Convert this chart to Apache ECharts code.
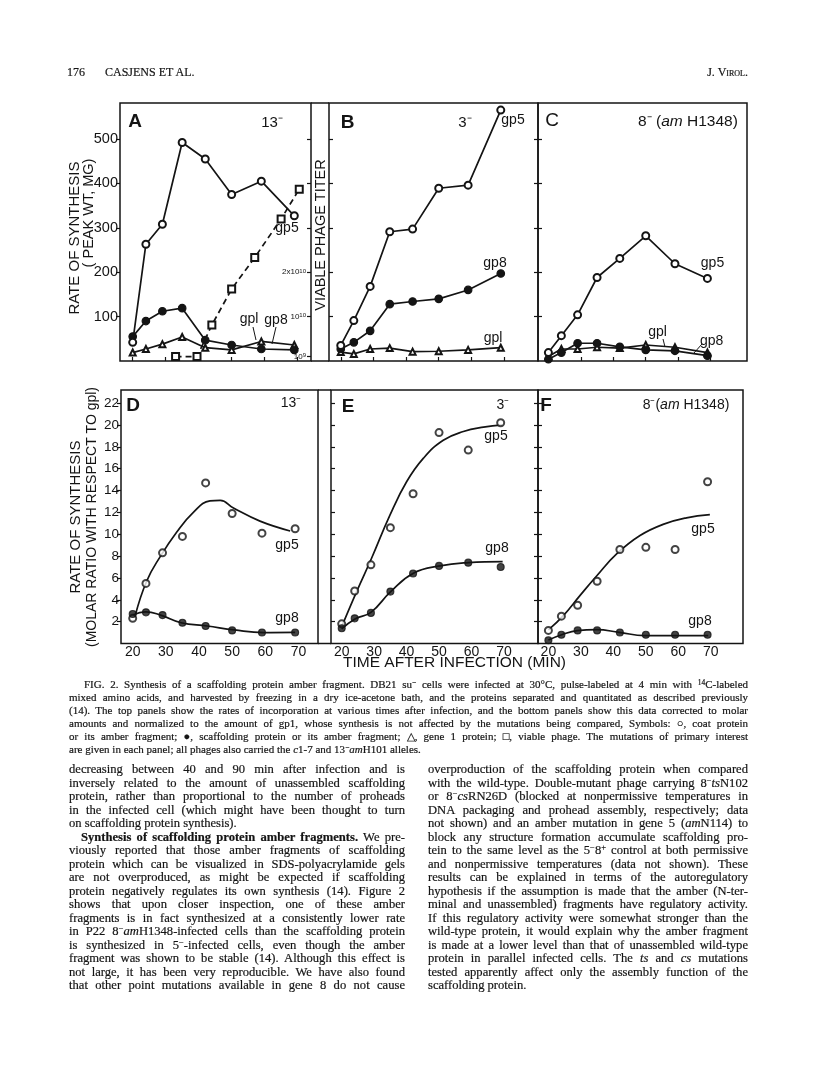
<!DOCTYPE html>
<html><head><meta charset="utf-8">
<script src="https://cdn.jsdelivr.net/npm/echarts@6/dist/echarts.min.js"></script>
<style>
html,body{margin:0;padding:0;background:#fff;}
#page{position:relative;width:816px;height:1076px;overflow:hidden;background:#fff;}
#chart{position:absolute;left:0;top:0;width:816px;height:1076px;}
.ln{position:absolute;white-space:nowrap;font-family:'Liberation Serif','Times New Roman',serif;color:#151515;-webkit-text-stroke:0.2px #151515;}
.cap{font-size:11px;line-height:13px;}
.body{font-size:12.6px;line-height:13.5px;}
.hdr{font-size:12px;line-height:14px;}
sup{font-size:0.68em;vertical-align:0.45em;line-height:0;}
</style></head>
<body><div id="page"><div id="chart"></div><div id="txt"></div></div>
<script>
// ---------- data ----------
const times = [20, 24, 29, 35, 42, 50, 59, 69];           // sampling times (min)
const xTickValues = [20, 30, 40, 50, 60, 70];
// Panel A (13-) : rate of synthesis (peak wt, mg)
const aGp5 = [42, 263, 308, 492, 455, 375, 405, 327];
const aGp8 = [55, 90, 112, 119, 47, 36, 27, 25];
const aGp1 = [19, 27, 38, 54, 30, 25, 44, 36];
const aPhageTimes = [33, 39.5, 44, 50, 57, 65, 70.5];
const aPhageTiter = [1.0e9, 1.0e9, 8.1e9, 1.62e10, 2.33e10, 3.2e10, 3.87e10];
const topTickValues = [100, 200, 300, 400, 500];
const phageTickValues = [1e9, 1e10, 2e10, 3e10, 4e10, 5e10];
const phageLabelValues = [1e9, 1e10, 2e10];
// Panel B (3-)
const bGp5 = [35, 91, 168, 291, 297, 389, 396, 565];
const bGp8 = [27, 42, 68, 128, 134, 140, 160, 197];
const bGp1 = [20, 16, 27, 29, 21, 22, 25, 30];
// Panel C (8- am H1348)
const cGp5 = [19, 57, 104, 188, 231, 282, 219, 186];
const cGp8 = [4, 19, 40, 40, 32, 25, 23, 12];
const cGp1 = [10, 27, 27, 31, 29, 36, 31, 19];
// Bottom panels: molar ratio with respect to gp1
const botTickValues = [2, 4, 6, 8, 10, 12, 14, 16, 18, 20, 22];
const dGp5 = [2.3, 5.5, 8.3, 9.8, 14.7, 11.9, 10.1, 10.5];
const dGp8 = [2.7, 2.85, 2.6, 1.9, 1.6, 1.2, 1.0, 1.0];
const eGp5 = [1.8, 4.8, 7.2, 10.6, 13.7, 19.3, 17.7, 20.2];
const eGp8 = [1.4, 2.3, 2.8, 4.75, 6.4, 7.1, 7.4, 7.0];
const fGp5 = [1.2, 2.5, 3.5, 5.7, 8.6, 8.8, 8.6, 14.8];
const fGp8 = [0.3, 0.8, 1.2, 1.2, 1.0, 0.8, 0.8, 0.8];
// hand-drawn fitted curves
const dGp5FitT = [20.7, 24.2, 28.3, 33.3, 38.3, 43.3, 46.4, 50.4, 58.4, 67.5];
const dGp5FitV = [2.5, 5.7, 7.95, 10.2, 12.0, 13.05, 13.1, 12.4, 11.2, 10.3];
const dGp8FitT = [20, 24, 28.4, 34.6, 42.5, 50.7, 59.5, 69];
const dGp8FitV = [2.6, 2.9, 2.6, 1.9, 1.6, 1.24, 1.0, 1.02];
const eGp5FitT = [20, 24.6, 29.2, 34.9, 40, 45.2, 51.3, 57.5, 63.7, 69.6];
const eGp5FitV = [1.54, 4.75, 7.8, 11.77, 14.8, 16.96, 18.6, 19.4, 19.8, 20.0];
const eGp8FitT = [20, 24.1, 29, 35.1, 42.1, 50.3, 59.1, 69.6];
const eGp8FitV = [1.33, 2.24, 2.85, 4.75, 6.43, 7.1, 7.4, 7.5];
const fGp5FitT = [20, 24.6, 29.7, 34.9, 41, 48.2, 55.3, 62.5, 69.7];
const fGp5FitV = [1.24, 2.55, 4.38, 6.2, 8.2, 9.88, 10.9, 11.5, 11.8];
const fGp8FitT = [20, 24.1, 28.9, 34.9, 41.8, 49.7, 58.7, 69.2];
const fGp8FitV = [0.32, 0.8, 1.18, 1.27, 1.02, 0.72, 0.72, 0.72];

// ---------- chart ----------
const INK = '#141414';
const FONT = "'Liberation Sans', Arial, sans-serif";
const zip = (xs, ys) => xs.map((x, i) => [x, ys[i]]);

function grid(l, t, w, h) {
  return {left: l, top: t, width: w, height: h, show: true, borderColor: INK, borderWidth: 1.5,
          backgroundColor: 'rgba(0,0,0,0)'};
}
const grids = [grid(120, 103, 191, 258), grid(329, 103, 209, 258), grid(538, 103, 209, 258),
               grid(121, 390, 197, 253.5), grid(331, 390, 207, 253.5), grid(538, 390, 205, 253.5)];

function xTop(gi, min, max) {
  return {type: 'value', gridIndex: gi, min, max, axisLine: {show: false}, splitLine: {show: false},
    axisTick: {show: true, inside: true, length: 4, customValues: xTickValues, lineStyle: {color: INK, width: 1.2}},
    axisLabel: {show: false}};
}
function xBot(gi, min, max) {
  return {type: 'value', gridIndex: gi, min, max, axisLine: {show: false}, splitLine: {show: false},
    axisTick: {show: false},
    axisLabel: {show: true, customValues: xTickValues, fontSize: 14, fontFamily: FONT, color: INK, margin: 2}};
}
function yAx(gi, pos, max, ticks, inside, labels, fs) {
  return {type: 'value', gridIndex: gi, position: pos, min: 0, max, axisLine: {show: false}, splitLine: {show: false},
    axisTick: {show: true, inside, length: 4, customValues: ticks, lineStyle: {color: INK, width: 1.2}},
    axisLabel: labels ? {show: true, customValues: labels, fontSize: fs, fontFamily: FONT, color: INK, margin: 2}
                      : {show: false}};
}
const TOPMAX = 581, BOTMAX = 23.2;
const xAxes = [xTop(0, 16.15, 74.06), xTop(1, 16.4, 80.4), xTop(2, 16.8, 81.2),
               xBot(3, 16.47, 75.9), xBot(4, 16.7, 80.5), xBot(5, 16.8, 79.9)];
const phageAxis = {type: 'value', gridIndex: 0, position: 'right', min: 0, max: TOPMAX * 1e8,
  axisLine: {show: false}, splitLine: {show: false},
  axisTick: {show: true, inside: true, length: 4, customValues: phageTickValues, lineStyle: {color: INK, width: 1.2}},
  axisLabel: {show: true, inside: true, customValues: phageLabelValues, margin: 5, color: INK,
    formatter: v => {
      const r = Math.round(v / 1e9);
      return r === 1 ? '{b|10}{s|9}' : r === 10 ? '{b|10}{s|10}' : '{b|2x10}{s|10}';
    },
    rich: {b: {fontSize: 8, fontFamily: FONT, color: INK, verticalAlign: 'bottom'},
           s: {fontSize: 6, fontFamily: FONT, color: INK, verticalAlign: 'top'}}}};
const yAxes = [
  yAx(0, 'left', TOPMAX, topTickValues, false, topTickValues, 14.5),   // 0 A left
  phageAxis,                                                          // 1 A right
  yAx(1, 'left', TOPMAX, topTickValues, true, null),                  // 2 B left
  yAx(1, 'right', TOPMAX, topTickValues, true, null),                 // 3 B right
  yAx(2, 'left', TOPMAX, topTickValues, true, null),                  // 4 C left
  yAx(3, 'left', BOTMAX, botTickValues, false, botTickValues, 13.5),  // 5 D left
  yAx(4, 'left', BOTMAX, botTickValues, true, null),                  // 6 E left
  yAx(4, 'right', BOTMAX, botTickValues, true, null),                 // 7 E right
  yAx(5, 'left', BOTMAX, botTickValues, true, null)                   // 8 F left
];

function lineS(xi, yi, data, symbol, size, dashed) {
  return {type: 'line', xAxisIndex: xi, yAxisIndex: yi, data, symbol, symbolSize: size, smooth: false,
    showAllSymbol: true, z: 3,
    lineStyle: {color: INK, width: 1.7, type: dashed ? [6, 4] : 'solid'},
    itemStyle: {color: INK, borderColor: INK, borderWidth: 1.2}};
}
function fitS(xi, yi, data) {
  return {type: 'line', xAxisIndex: xi, yAxisIndex: yi, data, symbol: 'none', smooth: 0.45, z: 2,
    lineStyle: {color: INK, width: 1.7}};
}
function ptS(xi, yi, data, symbol) {
  return {type: 'scatter', xAxisIndex: xi, yAxisIndex: yi, data, symbol, symbolSize: 7, z: 4,
    itemStyle: {color: INK, borderColor: INK, borderWidth: 1.1}};
}
const series = [
  lineS(0, 1, zip(aPhageTimes, aPhageTiter), 'emptyRect', 7, true),
  lineS(0, 0, zip(times, aGp1), 'emptyTriangle', 6),
  lineS(0, 0, zip(times, aGp8), 'circle', 7.5),
  lineS(0, 0, zip(times, aGp5), 'emptyCircle', 7),
  lineS(1, 2, zip(times, bGp1), 'emptyTriangle', 6),
  lineS(1, 2, zip(times, bGp8), 'circle', 7.5),
  lineS(1, 2, zip(times, bGp5), 'emptyCircle', 7),
  lineS(2, 4, zip(times, cGp1), 'emptyTriangle', 6),
  lineS(2, 4, zip(times, cGp8), 'circle', 7.5),
  lineS(2, 4, zip(times, cGp5), 'emptyCircle', 7),
  fitS(3, 5, zip(dGp5FitT, dGp5FitV)), fitS(3, 5, zip(dGp8FitT, dGp8FitV)),
  ptS(3, 5, zip(times, dGp5), 'emptyCircle'), ptS(3, 5, zip(times, dGp8), 'circle'),
  fitS(4, 6, zip(eGp5FitT, eGp5FitV)), fitS(4, 6, zip(eGp8FitT, eGp8FitV)),
  ptS(4, 6, zip(times, eGp5), 'emptyCircle'), ptS(4, 6, zip(times, eGp8), 'circle'),
  fitS(5, 8, zip(fGp5FitT, fGp5FitV)), fitS(5, 8, zip(fGp8FitT, fGp8FitV)),
  ptS(5, 8, zip(times, fGp5), 'emptyCircle'), ptS(5, 8, zip(times, fGp8), 'circle')
];

function txt(x, y, text, size, opt) {
  opt = opt || {};
  return {type: 'text', x, y, rotation: opt.rot || 0, z: 10,
    style: {text, fill: INK, font: (opt.weight || 'normal') + ' ' + size + 'px ' + FONT,
            align: opt.align || 'center', verticalAlign: 'middle', rich: opt.rich}};
}
function seg(x1, y1, x2, y2, w) {
  return {type: 'line', z: 10, shape: {x1, y1, x2, y2}, style: {stroke: INK, lineWidth: w || 1.5}};
}
const amRich = s => ({n: {font: s + 'px ' + FONT, fill: INK}, i: {font: 'italic ' + s + 'px ' + FONT, fill: INK}});
const graphics = [
  // frame connectors between panels
  seg(311, 103, 329, 103), seg(311, 361, 329, 361),
  seg(318, 390, 331, 390), seg(318, 643.5, 331, 643.5),
  // axis titles
  txt(75, 238, 'RATE OF SYNTHESIS', 15, {rot: Math.PI / 2}),
  txt(89, 213, '( PEAK WT, MG)', 14.5, {rot: Math.PI / 2}),
  txt(321, 235, 'VIABLE PHAGE TITER', 14.5, {rot: Math.PI / 2}),
  txt(76, 517, 'RATE OF SYNTHESIS', 15, {rot: Math.PI / 2}),
  txt(92, 517, '(MOLAR RATIO WITH RESPECT TO gpl)', 14, {rot: Math.PI / 2}),
  txt(454.5, 663, 'TIME AFTER INFECTION (MIN)', 15.5),
  // panel letters and strains
  txt(135, 122, 'A', 19, {weight: 'bold'}), txt(272, 123, '13⁻', 15),
  txt(347.5, 123, 'B', 19, {weight: 'bold'}), txt(465, 123, '3⁻', 15),
  txt(552, 121, 'C', 19), txt(688, 122, '{n|8⁻ (}{i|am}{n| H1348)}', 15, {rich: amRich(15.5)}),
  txt(133, 405.5, 'D', 19, {weight: 'bold'}), txt(291, 403, '13⁻', 14),
  txt(348, 407, 'E', 19, {weight: 'bold'}), txt(503, 405, '3⁻', 14),
  txt(546, 406, 'F', 19, {weight: 'bold'}), txt(686, 405, '{n|8⁻(}{i|am}{n| H1348)}', 14, {rich: amRich(14)}),
  // series labels
  txt(287, 228, 'gp5', 14), txt(249, 319, 'gpl', 14), txt(276, 320, 'gp8', 14),
  seg(253, 327, 256, 340, 1), seg(276, 327, 272, 344, 1),
  txt(513, 120, 'gp5', 14), txt(495, 263, 'gp8', 14), txt(493, 338, 'gpl', 14),
  txt(712.5, 263, 'gp5', 14), txt(657.5, 332, 'gpl', 14), txt(711.7, 341, 'gp8', 14),
  seg(663, 339, 665, 347, 1), seg(702, 344, 694, 353, 1),
  txt(287, 545, 'gp5', 14), txt(287, 618, 'gp8', 14),
  txt(496, 436, 'gp5', 14), txt(497, 548, 'gp8', 14),
  txt(703, 529, 'gp5', 14), txt(700, 621, 'gp8', 14)
];

const chart = echarts.init(document.getElementById('chart'), null, {renderer: 'canvas'});
chart.setOption({animation: false, backgroundColor: '#fff', grid: grids, xAxis: xAxes, yAxis: yAxes,
                 series, graphic: graphics});

// ---------- page text ----------
const header = [
  {x: 67, y: 72, t: '176', cls: 'hdr'},
  {x: 105, y: 72, t: 'CASJENS ET AL.', cls: 'hdr'},
  {x: 700, y: 72, w: 48, t: 'J. V<span style="font-variant:small-caps">irol.</span>', cls: 'hdr', right: true}
];
const captionLines = [
  'FIG. 2. Synthesis of a scaffolding protein amber fragment. DB21 su<sup>−</sup> cells were infected at 30°C, pulse-labeled at 4 min with <sup>14</sup>C-labeled',
  'mixed amino acids, and harvested by freezing in a dry ice-acetone bath, and the proteins separated and quantitated as described previously',
  '(14). The top panels show the rates of incorporation at various times after infection, and the bottom panels show this data corrected to molar',
  'amounts and normalized to the amount of gp1, whose synthesis is not affected by the mutations being compared, Symbols: ○, coat protein',
  'or its amber fragment; ●, scaffolding protein or its amber fragment; △, gene 1 protein; □, viable phage. The mutations of primary interest',
  'are given in each panel; all phages also carried the <i>c</i>1-7 and 13<sup>−</sup><i>am</i>H101 alleles.'
];
const leftCol = [
  'decreasing between 40 and 90 min after infection and is',
  'inversely related to the amount of unassembled scaffolding',
  'protein, rather than proportional to the number of proheads',
  'in the infected cell (which might have been thought to turn',
  'on scaffolding protein synthesis).',
  '<b>Synthesis of scaffolding protein amber fragments.</b> We pre-',
  'viously reported that those amber fragments of scaffolding',
  'protein which can be visualized in SDS-polyacrylamide gels',
  'are not overproduced, as might be expected if scaffolding',
  'protein negatively regulates its own synthesis (14). Figure 2',
  'shows that upon closer inspection, one of these amber',
  'fragments is in fact synthesized at a consistently lower rate',
  'in P22 8<sup>−</sup><i>am</i>H1348-infected cells than the scaffolding protein',
  'is synthesized in 5<sup>−</sup>-infected cells, even though the amber',
  'fragment was shown to be stable (14). Although this effect is',
  'not large, it has been very reproducible. We have also found',
  'that other point mutations available in gene 8 do not cause'
];
const rightCol = [
  'overproduction of the scaffolding protein when compared',
  'with the wild-type. Double-mutant phage carrying 8<sup>−</sup><i>ts</i>N102',
  'or 8<sup>−</sup><i>cs</i>RN26D (blocked at nonpermissive temperatures in',
  'DNA packaging and prohead assembly, respectively; data',
  'not shown) and an amber mutation in gene 5 (<i>am</i>N114) to',
  'block any structure formation accumulate scaffolding pro-',
  'tein to the same level as the 5<sup>−</sup>8<sup>+</sup> control at both permissive',
  'and nonpermissive temperatures (data not shown). These',
  'results can be explained in terms of the autoregulatory',
  'hypothesis if the assumption is made that the amber (N-ter-',
  'minal and unassembled) fragments have regulatory activity.',
  'If this regulatory activity were somewhat stronger than the',
  'wild-type protein, it would explain why the amber fragment',
  'is made at a lower level than that of unassembled wild-type',
  'protein in parallel infected cells. The <i>ts</i> and <i>cs</i> mutations',
  'tested apparently affect only the assembly function of the',
  'scaffolding protein.'
];
const host = document.getElementById('txt');
function addLine(html, cls, x, yc, w, justify, lh) {
  const d = document.createElement('div');
  d.className = 'ln ' + cls;
  d.style.left = x + 'px';
  d.style.top = (yc - lh / 2) + 'px';
  const s = document.createElement('span');
  s.innerHTML = html;
  d.appendChild(s);
  host.appendChild(d);
  if (w && justify) {
    const nat = s.getBoundingClientRect().width;
    const n = (s.textContent.match(/ /g) || []).length;
    if (n > 0) s.style.wordSpacing = ((w - nat) / n) + 'px';
  }
  return d;
}
header.forEach(h => {
  const d = addLine(h.t, h.cls, h.x, h.y, 0, false, 14);
  if (h.right) { const s = d.firstChild; d.style.left = (h.x + h.w - s.getBoundingClientRect().width) + 'px'; }
});
captionLines.forEach((t, i) => {
  const x = i === 0 ? 84 : 69;
  addLine(t, 'cap', x, 684 + i * 13, 748 - x, i < captionLines.length - 1, 13);
});
leftCol.forEach((t, i) => {
  const x = i === 5 ? 81 : 69;
  addLine(t, 'body', x, 770 + i * 13.5, 405 - x, i !== 4, 13.5);
});
rightCol.forEach((t, i) => {
  addLine(t, 'body', 428, 770 + i * 13.5, 320, i !== rightCol.length - 1, 13.5);
});
</script>
</body></html>
